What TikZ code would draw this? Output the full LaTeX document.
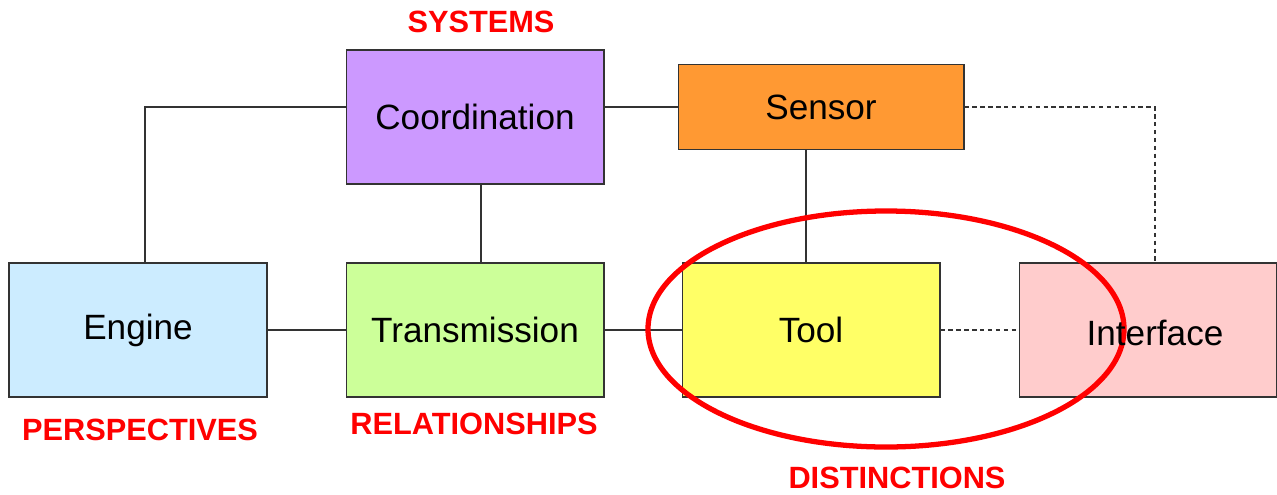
\documentclass[tikz,border=0pt]{standalone}
\usepackage{fontspec}
\setmainfont{Liberation Sans}
\usepackage{tikz}
\usetikzlibrary{calc}
\definecolor{coordfill}{HTML}{CC99FF}
\definecolor{sensorfill}{HTML}{FF9933}
\definecolor{enginefill}{HTML}{CCECFF}
\definecolor{transfill}{HTML}{CCFF99}
\definecolor{toolfill}{HTML}{FFFF66}
\definecolor{iffill}{HTML}{FFCCCC}
\definecolor{tagred}{HTML}{FF0000}
\tikzset{
  box/.style={draw=black!80, line width=0.6pt, minimum width=5.16cm, minimum height=2.68cm, inner sep=0pt},
  boxtext/.style={font=\fontsize{20}{24}\selectfont, text=black},
  tag/.style={font=\fontsize{17.5}{21}\selectfont\bfseries, text=tagred},
  link/.style={draw=black!80, line width=0.6pt},
  dlink/.style={link, dash pattern=on 2.5pt off 2pt}
}

\begin{document}
\begin{tikzpicture}[x=0.02cm, y=-0.02cm]
\useasboundingbox (0,0) rectangle (1277,494);

\node[box, fill=coordfill] (coord) at (475,117) {};
\node[box, fill=sensorfill, minimum width=5.72cm, minimum height=1.7cm] (sensor) at (821,107) {};
\node[box, fill=enginefill] (engine) at (138,330) {};
\node[box, fill=transfill] (trans) at (475,330) {};
\node[box, fill=toolfill] (tool) at (811,330) {};
\node[box, fill=iffill] (iface) at (1148,330) {};

\draw[link]
	($(engine.north)+(7,0)$) |- (sensor.west -| coord.west)
	(coord.east |- sensor.west) edge (sensor.west)
	($(coord.south)+(6,0)$) edge ($(trans.north)+(6,0)$)
	($(tool.north)-(5,0)$) edge ($(tool.north |- sensor.south)-(5,0)$)
	(engine) edge (trans)
	(trans) edge (tool)
;
\draw[dlink]
	(sensor.east) -| ($(iface.north)+(7,0)$)
	(tool) edge (iface)
;

\draw[tagred, line width=3pt] (886,329) ellipse [x radius=238, y radius=118];

\node[boxtext] (coordtxt) at (coord) {Coordination};
\node[boxtext] (sensortxt) at (sensor) {Sensor};
\node[boxtext] (enginetxt) at (engine) {Engine};
\node[boxtext] (transtxt) at (trans) {Transmission};
\node[boxtext] (tooltxt) at (tool) {Tool};
\node[boxtext] (iftxt) at ($(iface)+(7,3)$) {Interface};

\node[tag] (systems) at (481,22) {SYSTEMS};
\node[tag] (persp) at (140,430) {PERSPECTIVES};
\node[tag] (relat) at (474,424) {RELATIONSHIPS};
\node[tag] (distinct) at (897,478) {DISTINCTIONS};
\end{tikzpicture}
\end{document}
